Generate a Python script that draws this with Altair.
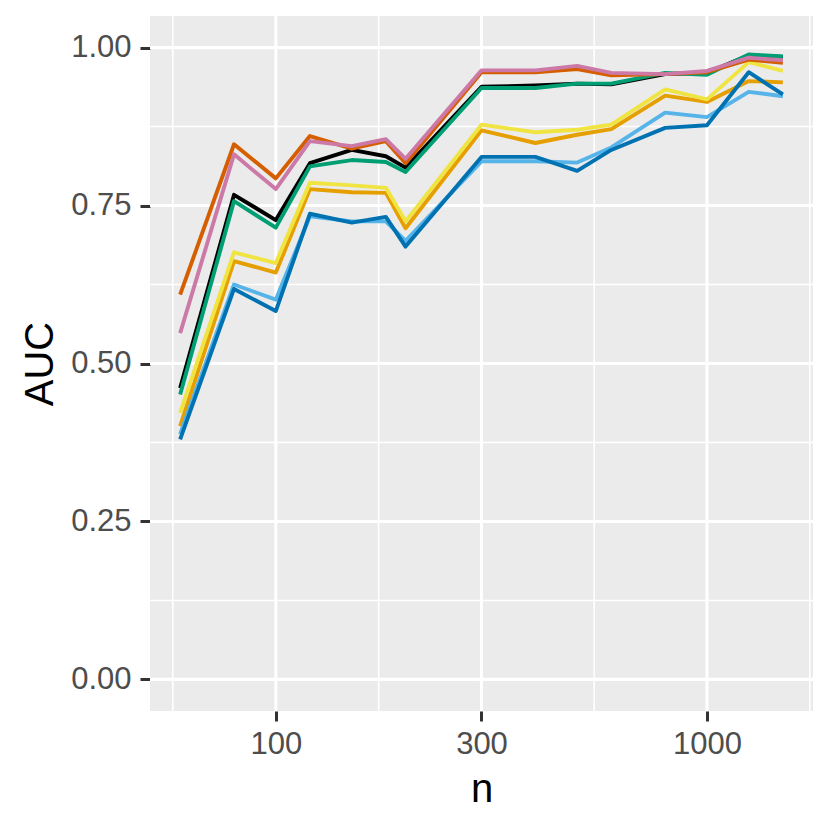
import altair as alt
import pandas as pd

n_values = [60, 80, 100, 120, 150, 180, 200, 300, 400, 500, 600, 800, 1000, 1250, 1500]

series_names = ["black", "orange", "skyblue", "green", "yellow", "blue", "vermillion", "pink"]
series_colors = ["#000000", "#E69F00", "#56B4E9", "#009E73", "#F0E442", "#0072B2", "#D55E00", "#CC79A7"]

auc_black = [0.461, 0.767, 0.727, 0.817, 0.838, 0.828, 0.810, 0.938, 0.940, 0.943, 0.942, 0.958, 0.960, 0.988, 0.985]
auc_orange = [0.401, 0.662, 0.644, 0.776, 0.771, 0.770, 0.714, 0.869, 0.849, 0.862, 0.871, 0.924, 0.914, 0.947, 0.945]
auc_skyblue = [0.388, 0.625, 0.601, 0.733, 0.725, 0.725, 0.694, 0.820, 0.820, 0.818, 0.842, 0.897, 0.890, 0.930, 0.923]
auc_green = [0.451, 0.757, 0.715, 0.812, 0.822, 0.819, 0.803, 0.936, 0.936, 0.943, 0.943, 0.960, 0.957, 0.989, 0.986]
auc_yellow = [0.422, 0.676, 0.659, 0.786, 0.782, 0.778, 0.725, 0.878, 0.866, 0.870, 0.878, 0.934, 0.918, 0.977, 0.963]
auc_blue = [0.380, 0.618, 0.583, 0.737, 0.723, 0.732, 0.685, 0.827, 0.827, 0.805, 0.838, 0.873, 0.877, 0.961, 0.926]
auc_vermillion = [0.609, 0.847, 0.793, 0.860, 0.840, 0.852, 0.817, 0.961, 0.961, 0.966, 0.956, 0.958, 0.961, 0.981, 0.976]
auc_pink = [0.548, 0.831, 0.776, 0.852, 0.844, 0.855, 0.824, 0.964, 0.964, 0.971, 0.960, 0.958, 0.963, 0.984, 0.980]

all_auc = [auc_black, auc_orange, auc_skyblue, auc_green, auc_yellow, auc_blue, auc_vermillion, auc_pink]

x_major = [100, 300, 1000]
x_minor = [57.7, 173.2, 547.7, 1732]
y_major = [0, 0.25, 0.5, 0.75, 1.0]
y_minor = [0.125, 0.375, 0.625, 0.875]
x_domain = [51.08, 1762]
y_domain = [-0.05, 1.05]

rows = []
for name, vals in zip(series_names, all_auc):
    for n, v in zip(n_values, vals):
        rows.append({"n": n, "AUC": v, "series": name})
df = pd.DataFrame(rows)

xscale = alt.Scale(type="log", domain=x_domain, nice=False, zero=False)
yscale = alt.Scale(domain=y_domain, nice=False, zero=False)

x_axis = alt.Axis(
    values=x_major, format="d", title="n", grid=False, domain=False,
    labelFontSize=31, labelColor="#4D4D4D", labelFont="Liberation Sans",
    tickColor="#333333", tickWidth=3, tickSize=10, labelPadding=8,
    labelFlush=False, labelOverlap=False,
    titleFontSize=40, titleFont="Liberation Sans", titleColor="black",
    titleFontWeight="normal", titlePadding=10)
y_axis = alt.Axis(
    values=y_major, format=".2f", title="AUC", grid=False, domain=False,
    labelFontSize=31, labelColor="#4D4D4D", labelFont="Liberation Sans",
    tickColor="#333333", tickWidth=3, tickSize=10, labelPadding=9,
    labelFlush=False, labelOverlap=False,
    titleFontSize=40, titleFont="Liberation Sans", titleColor="black",
    titleFontWeight="normal", titlePadding=10)

X = alt.X("n:Q", scale=xscale, axis=x_axis, title="n")
Y = alt.Y("AUC:Q", scale=yscale, axis=y_axis, title="AUC")

grid_minor_x = alt.Chart(pd.DataFrame({"n": x_minor})).mark_rule(
    color="white", strokeWidth=1.6
).encode(x=X)

grid_minor_y = alt.Chart(pd.DataFrame({"AUC": y_minor})).mark_rule(
    color="white", strokeWidth=1.6
).encode(y=Y)

grid_major_x = alt.Chart(pd.DataFrame({"n": x_major})).mark_rule(
    color="white", strokeWidth=3.1
).encode(x=X)

grid_major_y = alt.Chart(pd.DataFrame({"AUC": y_major})).mark_rule(
    color="white", strokeWidth=3.1
).encode(y=Y)

lines = alt.Chart(df).mark_line(strokeWidth=3.9, strokeJoin="round", strokeCap="butt", clip=True).encode(
    x=X,
    y=Y,
    color=alt.Color("series:N", scale=alt.Scale(domain=series_names, range=series_colors), legend=None),
    detail="series:N",
)

chart = alt.layer(grid_minor_x, grid_minor_y, grid_major_x, grid_major_y, lines).properties(
    width=663, height=695,
    autosize=alt.AutoSizeParams(type="none"),
    padding={"left": 142, "top": 8, "right": 5, "bottom": 100},
    background="white",
).configure_view(fill="#EBEBEB", strokeWidth=0)

chart.save("out.html", embed_options={"renderer": "svg", "actions": False})
